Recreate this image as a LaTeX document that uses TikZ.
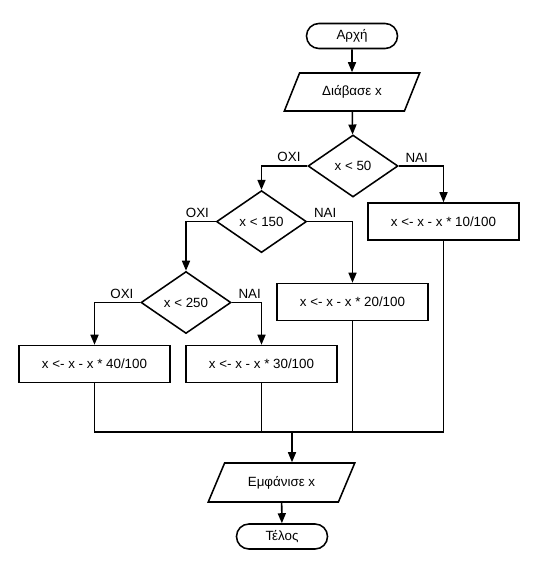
\documentclass[tikz,border=0pt]{standalone}
\usepackage{fontspec}
\setmainfont{Liberation Sans}
\usetikzlibrary{calc,positioning,shapes.geometric,arrows.meta}

\begin{document}
\begin{tikzpicture}[line width=1.1pt, font=\fontsize{9.5}{11}\selectfont,
	term/.style={draw, rectangle, rounded corners=0.31cm, minimum width=2.275cm, minimum height=0.625cm, inner sep=0pt},
	io/.style={draw, trapezium, trapezium left angle=56, trapezium right angle=124, trapezium stretches=true, minimum width=3.4cm, minimum height=0.95cm, inner sep=0pt},
	test/.style={draw, diamond, aspect=1.45, minimum width=2.25cm, minimum height=1.55cm, inner sep=0pt},
	box/.style={draw, rectangle, minimum width=3.775cm, minimum height=0.925cm, inner sep=0pt},
	lbl/.style={inner sep=0pt},
	arr/.style={-{Triangle[length=0.25cm,width=0.2cm]}}]
	\useasboundingbox (0,0) rectangle (13.3,-14.15);
\node[term] (start) at (8.8,-0.9) {Αρχή};
\node[io] (read) at (8.8,-2.3) {Διάβασε x};
\node[test] (t1) at (8.825,-4.15) {x < 50};
\node[box] (b1) at (11.0875,-5.5375) {x <- x - x * 10/100};
\node[test] (t2) at (6.5375,-5.54) {x < 150};
\node[box] (b2) at (8.8125,-7.55) {x <- x - x * 20/100};
\node[test] (t3) at (4.65,-7.5625) {x < 250};
\node[box] (b4) at (2.3625,-9.1) {x <- x - x * 40/100};
\node[box] (b3) at (6.5375,-9.1) {x <- x - x * 30/100};
\coordinate (merge) at (7.3,-10.8);
\node[io, trapezium left angle=53, trapezium right angle=127, minimum width=3.675cm, minimum height=0.975cm] (out) at (7.0375,-12.0625) {Εμφάνισε x};
\node[term] (stop) at (7.05,-13.4125) {Τέλος};
\node[lbl, above left=0.08cm and 0.15cm of t1.west] (no1) {ΟΧΙ};
\node[lbl, above right=0.08cm and 0.15cm of t1.east] (yes1) {ΝΑΙ};
\node[lbl, above left=0.08cm and 0.15cm of t2.west] (no2) {ΟΧΙ};
\node[lbl, above right=0.08cm and 0.15cm of t2.east] (yes2) {ΝΑΙ};
\node[lbl, above left=0.08cm and 0.15cm of t3.west] (no3) {ΟΧΙ};
\node[lbl, above right=0.08cm and 0.15cm of t3.east] (yes3) {ΝΑΙ};
\draw [arr] (start)-- (read);
\draw [arr] (read)-- (t1);
\draw [arr] (t1.west) -| (t2.north);
\draw [arr] (t1.east) -| (b1.north);
\draw [arr] (t2.west) -| (t3.north);
\draw [arr] (t2.east) -| (b2.north);
\draw [arr] (t3.west) -| (b4.north);
\draw [arr] (t3.east) -| (b3.north);
\draw (b4.south) |- (b1.south |- merge) -- (b1.south);
\draw (b3.south)-- (b3.south |- merge);
\draw (b2.south)-- (b2.south |- merge);
\draw [arr] (merge)-- (merge |- out.north);
\draw [arr] (out)-- (stop);
\end{tikzpicture}
\end{document}
